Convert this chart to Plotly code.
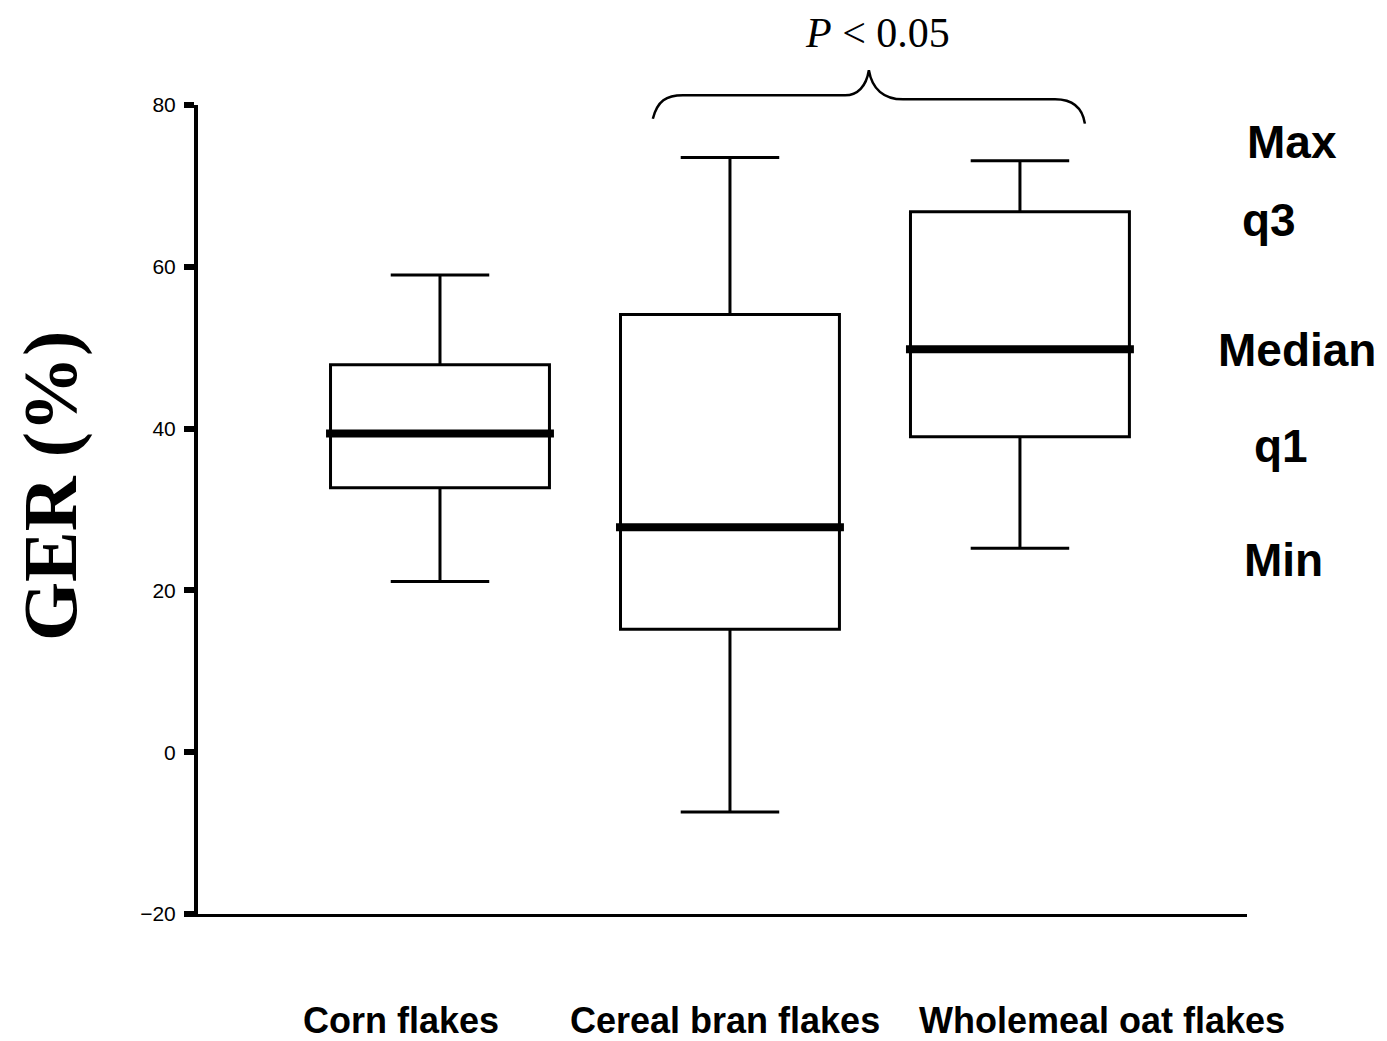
import plotly.graph_objects as go

# ---- data ----
categories = ["Corn flakes", "Cereal bran flakes", "Wholemeal oat flakes"]
positions = [0, 1, 2]
q_min = [21.1, -7.4, 25.2]
q_1 = [32.7, 15.2, 39.0]
q_med = [39.4, 27.8, 49.8]
q_3 = [47.9, 54.1, 66.8]
q_max = [59.0, 73.5, 73.1]
y_ticks = [-20, 0, 20, 40, 60, 80]
stat_labels = ["Max", "q3", "Median", "q1", "Min"]
p_text = "<i>P</i> &lt; 0.05"

XR = [-0.8345, 2.783]
YR = [-20, 80]

# plot area in page pixels (page has an 8px body margin)
PL, PR, PT, PB = 198, 1247, 105, 914
OFF = 8

fig = go.Figure()
fig.add_trace(go.Box(
    x=positions, q1=q_1, median=q_med, q3=q_3,
    lowerfence=q_min, upperfence=q_max,
    width=0.755, whiskerwidth=0.45,
    line=dict(color="black", width=3), fillcolor="white",
    boxpoints=False, hoverinfo="skip", showlegend=False,
))
# thick median lines
for p, m in zip(positions, q_med):
    fig.add_trace(go.Scatter(
        x=[p - 0.393, p + 0.393], y=[m, m], mode="lines",
        line=dict(color="black", width=8), hoverinfo="skip", showlegend=False,
    ))

def px(x):
    return (x - XR[0]) / (XR[1] - XR[0])

def py(y):
    return (y - YR[0]) / (YR[1] - YR[0])

def ppx(p):  # page pixel -> paper x
    return (p - PL) / (PR - PL)

def ppy(p):  # page pixel -> paper y
    return (PB - p) / (PB - PT)

# brace over cereal bran and oat flakes (data coords -> paper)
pts = [(0.734, 78.3), (0.75, 80.5), (0.78, 81.2), (0.838, 81.2),
       (1.397, 81.2), (1.44, 81.2), (1.47, 82.3), (1.479, 84.3),
       (1.49, 82.0), (1.53, 80.7), (1.597, 80.7),
       (2.121, 80.7), (2.18, 80.7), (2.215, 79.7), (2.224, 77.7)]
P = [f"{px(a):.5f},{py(b):.5f}" for a, b in pts]
path = (f"M {P[0]} C {P[1]} {P[2]} {P[3]} L {P[4]} C {P[5]} {P[6]} {P[7]} "
        f"C {P[8]} {P[9]} {P[10]} L {P[11]} C {P[12]} {P[13]} {P[14]}")
fig.add_shape(type="path", path=path, xref="paper", yref="paper",
              line=dict(color="black", width=2.5))

annotations = []
# category labels
label_px = [401, 725, 1102]
for c, lx in zip(categories, label_px):
    annotations.append(dict(
        text=c, x=ppx(lx), xref="paper", y=ppy(1020), yref="paper", showarrow=False,
        xanchor="center", yanchor="middle",
        font=dict(family="Liberation Sans", size=36, color="black", weight="bold"),
    ))
# stat labels on the right
stat_px = [1292, 1269, 1297, 1281, 1283]
stat_py = [142, 220, 350, 446, 560]
for t, sx, sy in zip(stat_labels, stat_px, stat_py):
    annotations.append(dict(
        text=t, x=ppx(sx), xref="paper", y=ppy(sy), yref="paper", showarrow=False,
        xanchor="center", yanchor="middle",
        font=dict(family="Liberation Sans", size=46, color="black", weight="bold"),
    ))
# P value
annotations.append(dict(
    text=p_text, x=ppx(877), xref="paper", y=ppy(33), yref="paper", showarrow=False,
    xanchor="center", yanchor="middle",
    font=dict(family="Liberation Serif", size=42, color="black"),
))
# y title
annotations.append(dict(
    text="GER (%)", x=ppx(50), xref="paper", y=ppy(486), yref="paper",
    showarrow=False, textangle=-90, xanchor="center", yanchor="middle",
    font=dict(family="Liberation Serif", size=76, color="black", weight="bold"),
))

W, H = 1387 - OFF, 1041 - OFF
fig.update_layout(
    width=W, height=H,
    margin=dict(l=PL - OFF, r=W - (PR - OFF), t=PT - OFF, b=H - (PB - OFF)),
    paper_bgcolor="white", plot_bgcolor="white",
    annotations=annotations,
    xaxis=dict(range=XR, showline=True, linecolor="black", linewidth=3,
               showticklabels=False, ticks="", showgrid=False, zeroline=False),
    yaxis=dict(range=YR, tickvals=y_ticks, ticks="outside", ticklen=10,
               tickwidth=6, tickcolor="black", showline=True, linecolor="black",
               linewidth=4, showgrid=False, zeroline=False,
               ticklabelstandoff=4,
               tickfont=dict(family="Liberation Sans", size=21, color="black")),
)

fig.write_html("out.html")
